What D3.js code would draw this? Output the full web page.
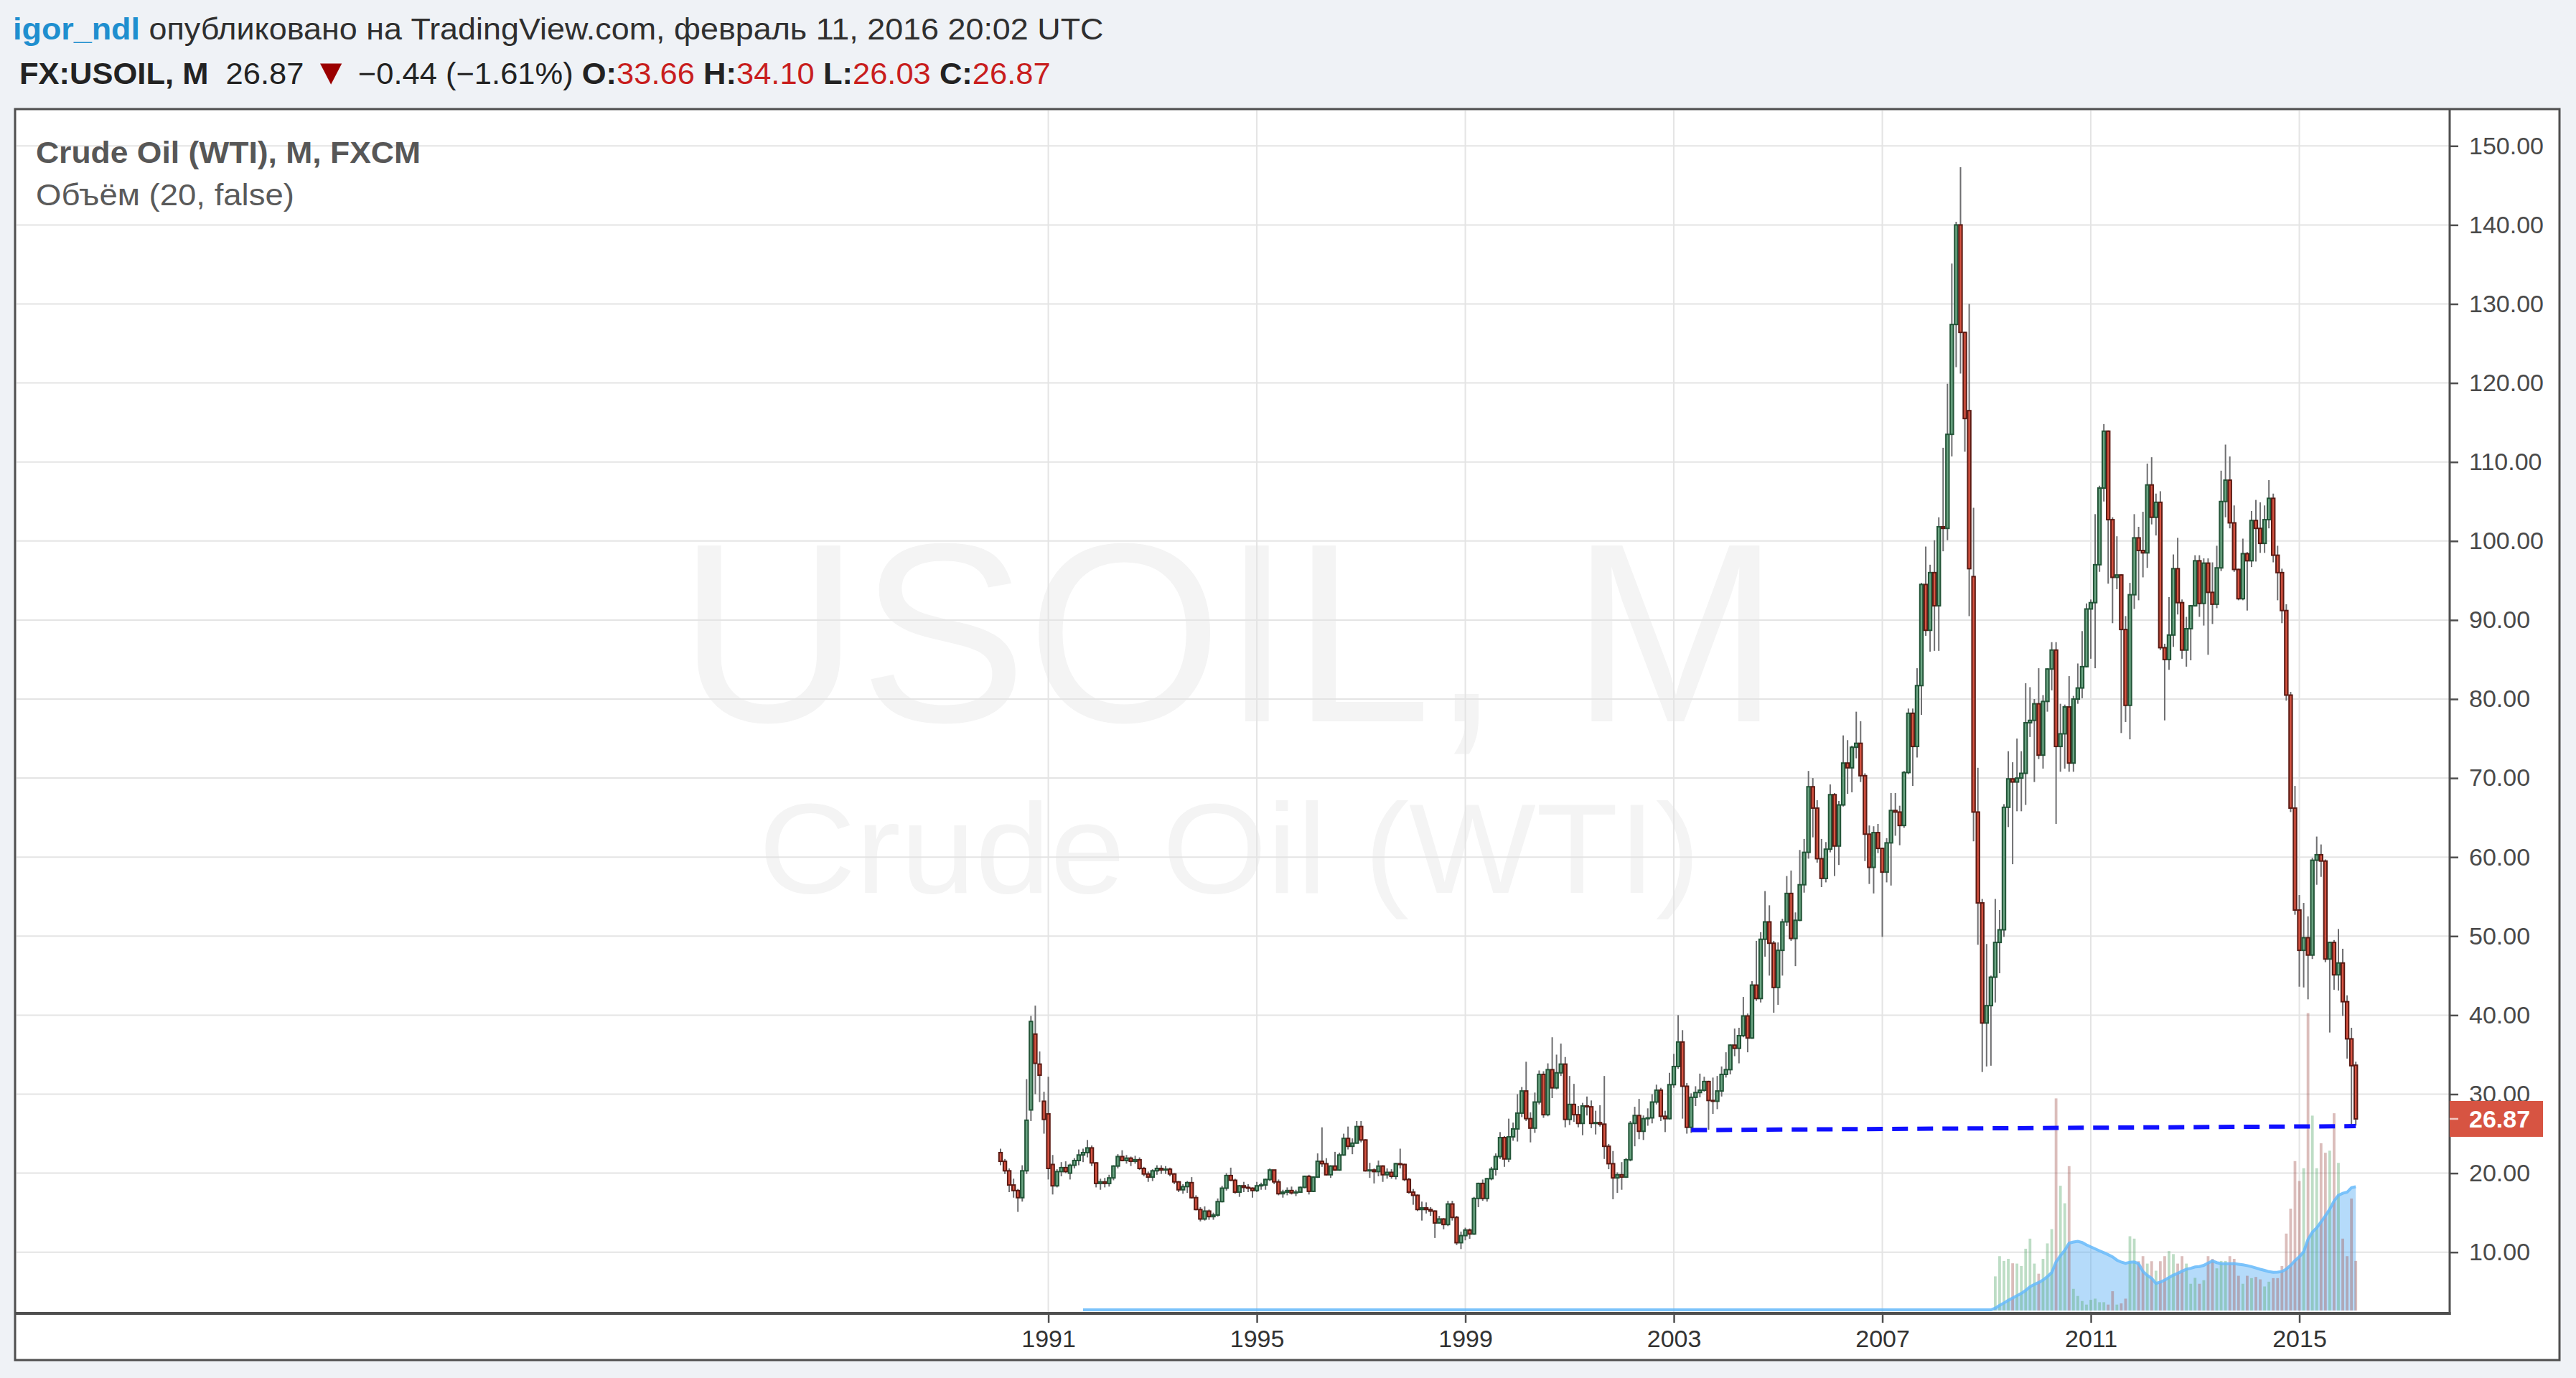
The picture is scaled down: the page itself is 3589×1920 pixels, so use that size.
<!DOCTYPE html>
<html>
<head>
<meta charset="utf-8">
<script src="https://cdn.jsdelivr.net/npm/d3@7/dist/d3.min.js"></script>
<style>
html,body{margin:0;padding:0;background:#eff2f6;overflow:hidden}
svg{display:block}
</style>
</head>
<body>
<svg id="chart" width="3589" height="1920"></svg>
<script>
// ---------------- DATA ----------------
const firstMonth = "1990-02";
const lastMonth = "2016-02";

// monthly OHLC, one line per year (1990 starts in Feb)
const opens = [
22.6,21.5,20.3,18.5,17.8,16.9,20.3,28.0,37.6,33.8,29.1,
27.5,21.1,18.4,20.2,20.7,20.0,21.0,21.6,22.3,22.6,23.2,21.3,
18.7,18.9,18.7,19.4,20.9,22.1,21.6,21.9,21.5,21.7,20.6,19.9,
19.5,20.3,20.6,20.4,20.5,19.9,18.9,17.9,18.3,18.8,16.9,15.4,
14.2,15.2,14.5,14.7,16.4,18.1,19.7,19.1,17.6,18.4,18.2,18.1,
17.8,18.4,18.5,19.2,20.4,18.9,17.4,17.6,17.8,17.5,17.6,18.2,
19.6,17.7,19.5,21.5,21.2,19.8,20.9,20.4,22.3,24.4,23.4,23.8,
25.9,24.2,20.3,20.4,20.2,20.9,19.8,20.1,19.6,21.2,21.1,19.2,
17.6,17.2,15.4,15.6,15.4,15.2,13.7,14.2,13.5,16.1,14.4,11.2,
12.1,12.8,12.3,16.8,18.7,16.8,19.3,20.5,22.1,24.5,21.8,24.6,
25.6,27.6,30.4,26.9,25.7,29.0,32.5,27.4,33.1,30.8,32.7,33.8,
26.8,28.7,27.4,26.3,28.5,28.4,26.3,26.4,26.2,23.4,21.2,19.4,
19.8,19.5,21.7,26.3,27.3,25.3,26.9,27.0,29.0,30.5,27.2,26.9,
31.2,33.5,36.6,31.0,25.8,29.6,30.2,30.5,31.6,29.2,29.1,30.4,
32.5,33.1,36.2,35.8,37.4,39.9,37.1,43.8,42.1,49.6,51.8,49.1,
43.5,48.2,51.8,55.4,49.7,52.0,56.5,60.6,68.9,66.2,59.8,57.3,
61.0,67.9,61.4,66.6,71.9,71.3,73.9,74.4,70.3,62.9,58.7,63.1,
61.1,58.1,61.8,65.9,65.7,64.0,70.7,78.2,74.0,81.7,94.5,88.7,
96.0,91.8,101.8,101.6,113.5,127.4,140.0,126.4,116.5,95.5,65.7,54.2,
39.0,41.2,44.8,49.2,50.8,66.3,69.9,69.5,70.0,70.6,77.0,77.3,
79.4,72.9,79.7,83.8,86.2,74.0,75.6,79.0,71.9,80.0,81.4,84.1,
91.4,92.2,97.0,106.7,113.9,102.7,95.4,95.7,88.8,79.2,93.2,100.4,
98.8,98.5,107.1,103.0,104.9,86.5,85.0,88.1,96.5,92.2,86.2,88.9,
91.8,97.5,92.1,97.2,93.5,92.0,96.6,105.0,107.7,102.3,96.4,92.7,
98.4,97.5,102.6,101.6,99.7,102.7,105.4,98.2,96.0,91.2,80.5,66.2,
53.3,48.2,49.8,47.6,59.6,60.3,59.5,47.1,49.2,45.1,46.6,41.7,
37.0,33.66
];
const highs = [
23.1,21.8,20.6,19.3,18.0,21.0,31.9,39.9,41.2,35.4,30.3,
32.2,22.3,20.5,21.4,21.5,21.2,21.9,23.0,23.1,24.2,23.5,21.4,
19.3,19.4,19.8,21.0,22.4,22.9,22.3,22.1,22.2,22.0,20.8,20.2,
20.5,21.0,21.0,20.9,20.7,20.0,19.0,18.6,19.0,19.5,17.2,15.7,
15.8,15.4,15.0,16.8,18.4,20.0,20.7,19.3,18.5,18.9,18.6,18.2,
18.9,18.8,19.3,20.6,20.4,19.2,17.9,18.2,18.3,17.9,18.3,19.7,
19.8,19.6,22.5,25.8,21.9,21.0,22.7,22.6,25.0,25.9,24.4,26.6,
26.6,24.3,21.3,20.6,21.6,21.0,20.6,20.5,21.3,23.1,21.2,19.4,
18.0,17.3,16.4,16.3,15.7,15.3,14.6,14.3,16.5,16.5,14.6,12.6,
13.1,13.0,17.0,18.8,19.2,19.4,20.8,22.5,25.2,24.7,26.9,26.4,
30.0,30.9,34.1,27.7,30.2,33.0,32.9,33.9,37.2,35.0,36.4,34.7,
32.3,31.3,28.5,28.9,29.7,29.2,27.9,28.6,32.3,23.7,22.8,20.1,
21.4,21.9,26.6,28.4,29.4,27.3,28.2,30.0,31.2,30.8,27.9,32.7,
35.1,40.0,38.1,31.4,30.1,31.0,32.6,32.2,31.7,32.1,32.3,33.5,
35.3,36.3,38.3,38.4,42.3,40.2,44.3,49.4,50.5,55.7,53.9,49.4,
49.2,52.2,57.6,58.3,53.0,60.9,62.3,70.9,70.0,67.2,62.3,61.9,
69.2,68.1,67.1,75.4,74.8,74.1,78.4,77.2,70.6,64.0,63.9,64.2,
61.2,62.4,68.1,68.1,66.5,70.9,78.8,78.8,83.9,94.7,99.3,97.0,
100.1,103.0,111.8,119.9,135.1,140.4,147.3,126.5,130.0,104.2,71.3,54.7,
49.0,45.0,54.7,53.3,66.7,73.4,72.0,75.0,73.4,82.0,81.5,80.0,
83.9,80.5,83.9,87.2,87.2,79.4,79.3,82.9,80.4,84.5,88.6,92.1,
92.6,103.4,107.0,114.8,114.0,103.0,100.6,95.8,90.5,94.7,103.4,101.8,
103.7,109.8,110.6,106.0,106.3,87.0,92.9,98.3,100.4,92.6,90.4,91.9,
98.2,98.2,97.8,97.8,97.3,99.4,108.9,112.2,110.7,104.5,96.5,100.3,
98.6,103.8,105.2,104.9,104.5,107.7,106.0,99.4,96.5,92.0,80.9,69.0,
55.2,54.2,52.5,59.9,62.6,61.6,59.7,49.3,49.5,50.9,48.4,42.5,
38.4,34.10
];
const lows = [
21.0,19.9,17.6,16.9,15.1,16.4,19.9,26.6,30.0,29.0,25.0,
19.2,17.3,18.2,19.6,20.0,19.2,20.6,21.0,21.4,22.0,20.9,18.2,
17.9,18.2,18.3,19.1,20.6,21.5,21.2,20.9,21.2,20.4,19.6,18.9,
19.0,19.8,19.9,19.9,19.6,18.6,17.6,17.4,17.5,16.8,15.3,13.9,
14.0,14.1,14.1,14.5,16.3,17.8,19.0,17.4,17.0,17.6,17.6,16.9,
17.6,17.9,17.9,19.0,18.6,17.2,16.9,17.2,17.3,17.1,17.6,18.1,
17.3,17.6,19.4,20.8,19.7,19.4,20.3,20.3,22.2,23.0,22.4,23.8,
23.9,20.2,19.4,18.7,19.6,18.9,19.3,19.3,19.2,20.6,19.0,17.4,
16.0,15.2,14.0,14.9,14.6,11.8,13.6,12.9,13.3,14.0,10.9,10.4,
11.5,11.7,12.2,15.7,16.5,16.4,19.1,19.7,21.8,20.8,21.4,24.1,
24.0,27.1,26.6,23.9,25.1,28.7,27.0,27.2,29.5,30.6,32.3,25.8,
26.1,26.5,25.8,24.8,27.3,25.7,24.9,25.9,21.8,20.5,16.7,17.5,
17.9,19.4,21.5,23.4,24.3,24.2,26.0,26.3,28.7,26.6,25.2,26.8,
30.8,33.2,26.9,25.0,25.1,28.5,29.6,30.3,25.5,27.5,28.1,29.7,
32.1,32.5,34.8,33.9,37.2,35.3,37.0,41.8,41.6,47.4,45.0,40.3,
41.3,45.0,51.3,49.4,46.2,51.9,55.5,59.8,62.5,59.3,56.2,56.8,
60.6,57.6,59.0,66.4,68.0,68.2,72.5,69.5,59.5,56.6,55.4,60.5,
49.9,56.8,56.4,62.7,61.5,63.7,70.5,69.0,72.6,78.0,88.0,86.0,
86.1,86.1,98.7,100.1,110.7,122.0,121.2,111.3,90.5,62.0,48.9,32.8,
33.5,33.6,41.6,45.3,49.9,63.8,59.1,65.8,65.8,66.6,75.2,69.5,
72.4,71.2,78.4,81.1,64.2,70.8,71.2,70.8,70.8,79.4,80.1,84.0,
85.1,83.9,96.1,105.0,94.6,89.6,93.9,75.7,77.1,74.9,91.4,92.5,
95.4,96.6,102.1,100.7,86.2,77.3,83.7,86.6,90.7,85.1,84.1,84.9,
91.7,90.4,89.3,85.6,89.5,91.5,96.2,103.0,101.6,96.1,92.5,92.5,
91.2,96.7,97.4,98.5,98.5,101.6,97.3,92.5,89.6,79.8,65.7,52.7,
43.6,43.5,42.0,47.1,56.5,57.5,46.7,37.8,43.2,43.1,39.9,34.5,
26.2,26.03
];
const closes = [
21.5,20.3,18.5,17.8,16.9,20.3,26.7,39.2,33.9,32.4,26.8,
20.6,18.4,20.2,20.7,20.2,21.0,21.6,22.3,22.6,23.2,21.3,18.7,
18.9,18.7,19.4,20.9,22.1,21.6,21.9,21.5,21.7,20.6,19.9,19.5,
20.3,20.6,20.4,20.5,19.9,18.9,17.9,18.3,18.8,16.9,15.4,14.2,
15.2,14.5,14.7,16.4,18.1,19.7,19.1,17.6,18.4,18.2,18.1,17.8,
18.4,18.5,19.2,20.4,18.9,17.4,17.6,17.8,17.5,17.6,18.2,19.6,
17.7,19.5,21.5,21.2,19.8,20.9,20.4,22.3,24.4,23.4,23.8,25.9,
24.2,20.3,20.4,20.2,20.9,19.8,20.1,19.6,21.2,21.1,19.2,17.6,
17.2,15.4,15.6,15.4,15.2,13.7,14.2,13.5,16.1,14.4,11.2,12.1,
12.8,12.3,16.8,18.7,16.8,19.3,20.5,22.1,24.5,21.8,24.6,25.6,
27.6,30.4,26.9,25.7,29.0,32.5,27.4,33.1,30.8,32.7,33.8,26.8,
28.7,27.4,26.3,28.5,28.4,26.3,26.4,26.2,23.4,21.2,19.4,19.8,
19.5,21.7,26.3,27.3,25.3,26.9,27.0,29.0,30.5,27.2,26.9,31.2,
33.5,36.6,31.0,25.8,29.6,30.2,30.5,31.6,29.2,29.1,30.4,32.5,
33.1,36.2,35.8,37.4,39.9,37.1,43.8,42.1,49.6,51.8,49.1,43.5,
48.2,51.8,55.4,49.7,52.0,56.5,60.6,68.9,66.2,59.8,57.3,61.0,
67.9,61.4,66.6,71.9,71.3,73.9,74.4,70.3,62.9,58.7,63.1,61.1,
58.1,61.8,65.9,65.7,64.0,70.7,78.2,74.0,81.7,94.5,88.7,96.0,
91.8,101.8,101.6,113.5,127.4,140.0,126.4,115.5,96.5,65.7,54.2,39.0,
41.2,44.8,49.2,50.8,66.3,69.9,69.5,70.0,70.6,77.0,77.3,79.4,
72.9,79.7,83.8,86.2,74.0,75.6,79.0,71.9,80.0,81.4,84.1,91.4,
92.2,97.0,106.7,113.9,102.7,95.4,95.7,88.8,79.2,93.2,100.4,98.8,
98.5,107.1,103.0,104.9,86.5,85.0,88.1,96.5,92.2,86.2,88.9,91.8,
97.5,92.1,97.2,93.5,92.0,96.6,105.0,107.7,102.3,96.4,92.7,98.4,
97.5,102.6,101.6,99.7,102.7,105.4,98.2,96.0,91.2,80.5,66.2,53.3,
48.2,49.8,47.6,59.6,60.3,59.5,47.1,49.2,45.1,46.6,41.7,37.0,
33.6,26.87
];

// monthly volume (relative units), available from 2009-03 on; none before
const volumeStart = "2009-03";
const volumes = [
11.5,18.3,16.7,17.4,15.9,15.8,15.0,20.8,24.2,15.8,
12.4,17.4,22.6,27.4,71.4,42.0,36.1,48.6,7.3,4.9,
3.2,2.0,3.6,4.0,2.8,2.8,2.0,6.5,2.0,2.4,
4.0,25.0,24.2,16.6,18.3,15.8,16.6,13.4,16.6,18.3,
20.0,19.0,15.8,18.3,15.8,9.0,11.0,9.0,10.2,18.3,
17.4,14.2,16.7,16.7,18.3,17.4,11.7,9.0,11.7,10.9,
11.3,10.5,8.1,9.7,10.9,10.9,15.0,25.9,34.3,50.3,
43.6,47.9,100.1,65.6,47.9,56.3,53.1,53.8,66.4,49.7,
24.2,18.3,37.7,16.7
];
const volumeMaLength = 20;

const priceTicks = [10,20,30,40,50,60,70,80,90,100,110,120,130,140,150];
const yearTicks = ["1991-01","1995-01","1999-01","2003-01","2007-01","2011-01","2015-01"];
const trendLine = [{month:"2003-05", price:25.45}, {month:"2016-02", price:25.95}];
const lastPrice = 26.87;

const headerUser = "igor_ndl";
const headerRest = " опубликовано на TradingView.com, февраль 11, 2016 20:02 UTC";
const symbolLabel = "FX:USOIL, M";
const changeText = "−0.44 (−1.61%)";
const ohlcLabels = ["O:","H:","L:","C:"];
const ohlcValues = ["33.66","34.10","26.03","26.87"];
const legendTitle = "Crude Oil (WTI), M, FXCM";
const legendVolume = "Объём (20, false)";
const watermark1 = "USOIL, M";
const watermark2 = "Crude Oil (WTI)";

// ---------------- CHART ----------------
const W = 3589, H = 1920;
const plot = {left:21, top:152, right:3413, bottom:1830};
const frame = {left:21, top:152, right:3566, bottom:1895};
const FONT = "'Liberation Sans', Arial, sans-serif";

const parseM = d3.timeParse("%Y-%m"), fmtM = d3.timeFormat("%Y-%m");
const months = d3.timeMonth.range(parseM(firstMonth), d3.timeMonth.offset(parseM(lastMonth), 1)).map(fmtM);
const bars = months.map((m, i) => ({m, o:opens[i], h:highs[i], l:lows[i], c:closes[i]}));
const vStartIdx = months.indexOf(volumeStart);
const volFull = months.map((m, i) => i < vStartIdx ? 0 : volumes[i - vStartIdx]);
const volMA = months.map((m, i) => i < volumeMaLength - 1 ? null : d3.mean(volFull.slice(i - volumeMaLength + 1, i + 1)));

const x = d3.scalePoint().domain(months).range([1394, 3282.2]);
const y = d3.scaleLinear().domain([10, 150]).range([1744.7, 203.3]);
const yV = d3.scaleLinear().domain([0, 100]).range([1826, 1412]);

const svg = d3.select("#chart");
svg.append("rect").attr("width", W).attr("height", H).attr("fill", "#eff2f6");
svg.append("rect").attr("x", frame.left).attr("y", frame.top)
  .attr("width", frame.right - frame.left).attr("height", frame.bottom - frame.top)
  .attr("fill", "#ffffff").attr("stroke", "#4f4f4f").attr("stroke-width", 3);

svg.append("clipPath").attr("id", "pc").append("rect")
  .attr("x", plot.left + 2).attr("y", plot.top + 2)
  .attr("width", plot.right - plot.left - 3).attr("height", plot.bottom - plot.top - 3);
const g = svg.append("g").attr("clip-path", "url(#pc)");

function fitText(sel, x0, width) {
  const w = sel.node().getBBox().width;
  sel.attr("transform", `translate(${x0},0) scale(${width / w},1)`);
}

// watermark
const wm1 = g.append("text").attr("x", 0).attr("y", 1005).attr("font-family", FONT)
  .attr("font-size", 356).attr("fill", "#f4f4f4").text(watermark1);
fitText(wm1, 945, 1535);
const wm2 = g.append("text").attr("x", 0).attr("y", 1244).attr("font-family", FONT)
  .attr("font-size", 178).attr("fill", "#f4f4f4").text(watermark2);
fitText(wm2, 1057, 1312);

// grid
g.append("g").selectAll("line").data(priceTicks).join("line")
  .attr("x1", plot.left).attr("x2", plot.right)
  .attr("y1", d => y(d)).attr("y2", d => y(d))
  .attr("stroke", "#e4e4e4").attr("stroke-width", 2);
g.append("g").selectAll("line").data(yearTicks).join("line")
  .attr("x1", d => x(d)).attr("x2", d => x(d))
  .attr("y1", plot.top).attr("y2", plot.bottom)
  .attr("stroke", "#e4e4e4").attr("stroke-width", 2);

// volume MA area + bars + line
const maData = months.map((m, i) => ({m, v: volMA[i]})).filter(d => d.v !== null);
g.append("path").datum(maData)
  .attr("d", d3.area().x(d => x(d.m)).y0(yV(0)).y1(d => yV(d.v)))
  .attr("fill", "rgba(90,175,245,0.45)");
g.append("g").selectAll("rect").data(months.map((m, i) => ({m, v: volFull[i], up: closes[i] >= opens[i]})).filter(d => d.v > 0))
  .join("rect")
  .attr("x", d => x(d.m) - 1.9).attr("width", 3.8)
  .attr("y", d => yV(d.v)).attr("height", d => yV(0) - yV(d.v))
  .attr("fill", d => d.up ? "rgba(90,170,110,0.4)" : "rgba(165,90,85,0.4)");
g.append("path").datum(maData)
  .attr("d", d3.line().x(d => x(d.m)).y(d => yV(d.v) - 1))
  .attr("fill", "none").attr("stroke", "rgba(100,185,250,0.85)").attr("stroke-width", 4);

// candles
const cg = g.append("g");
cg.selectAll("line").data(bars).join("line")
  .attr("x1", d => x(d.m)).attr("x2", d => x(d.m))
  .attr("y1", d => y(d.h)).attr("y2", d => y(d.l))
  .attr("stroke", "#6e6e70").attr("stroke-width", 2);
cg.selectAll("rect").data(bars).join("rect")
  .attr("x", d => x(d.m) - 2.2).attr("width", 4.4)
  .attr("y", d => y(Math.max(d.o, d.c)))
  .attr("height", d => Math.max(1, Math.abs(y(d.o) - y(d.c))))
  .attr("fill", d => d.c >= d.o ? "#6ba583" : "#d75442")
  .attr("stroke", d => d.c >= d.o ? "#225437" : "#5b1a13")
  .attr("stroke-width", 2);

// trend line
g.append("line")
  .attr("x1", x(trendLine[0].month)).attr("y1", y(trendLine[0].price))
  .attr("x2", x(trendLine[1].month)).attr("y2", y(trendLine[1].price))
  .attr("stroke", "#1010ff").attr("stroke-width", 6).attr("stroke-dasharray", "22,13");

// axes
const yAxis = svg.append("g").attr("transform", `translate(${plot.right},0)`)
  .call(d3.axisRight(y).tickValues(priceTicks).tickFormat(d3.format(".2f")).tickSize(12).tickPadding(15));
yAxis.select(".domain").remove();
yAxis.selectAll(".tick line").attr("stroke", "#4f4f4f").attr("stroke-width", 2.5);
yAxis.selectAll(".tick text").attr("font-family", FONT).attr("font-size", 34).attr("fill", "#4a4a4a");

const xAxis = svg.append("g").attr("transform", `translate(0,${plot.bottom})`)
  .call(d3.axisBottom(x).tickValues(yearTicks).tickFormat(d => d.slice(0, 4)).tickSize(13).tickPadding(10));
xAxis.select(".domain").remove();
xAxis.selectAll(".tick line").attr("stroke", "#4f4f4f").attr("stroke-width", 2.5);
xAxis.selectAll(".tick text").attr("font-family", FONT).attr("font-size", 34).attr("fill", "#333333");

svg.append("line").attr("x1", plot.right).attr("x2", plot.right).attr("y1", plot.top).attr("y2", plot.bottom + 2)
  .attr("stroke", "#4f4f4f").attr("stroke-width", 3);
svg.append("line").attr("x1", plot.left).attr("x2", plot.right + 1.5).attr("y1", plot.bottom).attr("y2", plot.bottom)
  .attr("stroke", "#4f4f4f").attr("stroke-width", 4);

// last price label
const lp = svg.append("g").attr("transform", `translate(${plot.right},${y(lastPrice)})`);
lp.append("rect").attr("x", 0).attr("y", -25).attr("width", 130).attr("height", 50).attr("fill", "#d75442");
lp.append("line").attr("x1", 0).attr("x2", 12).attr("stroke", "#f3c9c2").attr("stroke-width", 2.5);
lp.append("text").attr("x", 27).attr("dy", "0.35em").attr("font-family", FONT).attr("font-size", 34)
  .attr("font-weight", "bold").attr("fill", "#ffffff").text(d3.format(".2f")(lastPrice));

// header
const h1 = svg.append("text").attr("y", 55).attr("font-family", FONT).attr("font-size", 42).style("white-space", "pre");
h1.append("tspan").attr("fill", "#1f8fcf").attr("font-weight", "bold").text(headerUser);
h1.append("tspan").attr("fill", "#2f2f2f").text(headerRest);
fitText(h1, 18, 1520);

const h2 = svg.append("text").attr("y", 117).attr("font-family", FONT).attr("font-size", 42).style("white-space", "pre").attr("fill", "#222");
h2.append("tspan").attr("font-weight", "bold").text(symbolLabel);
h2.append("tspan").text("  " + d3.format(".2f")(lastPrice) + " ");
h2.append("tspan").attr("fill", "#9b0000").attr("font-size", 50).text("▼");
h2.append("tspan").text(" " + changeText + " ");
ohlcLabels.forEach((lab, i) => {
  h2.append("tspan").attr("font-weight", "bold").text(lab);
  h2.append("tspan").attr("fill", "#c81e1e").text(ohlcValues[i] + (i < 3 ? " " : ""));
});
fitText(h2, 27, 1437);

// legend
const l1 = svg.append("text").attr("y", 227).attr("font-family", FONT).attr("font-size", 42)
  .attr("font-weight", "bold").attr("fill", "#575757").text(legendTitle);
fitText(l1, 50, 536);
const l2 = svg.append("text").attr("y", 286).attr("font-family", FONT).attr("font-size", 42)
  .attr("fill", "#5a5a5a").text(legendVolume);
fitText(l2, 50, 360);
</script>
</body>
</html>
